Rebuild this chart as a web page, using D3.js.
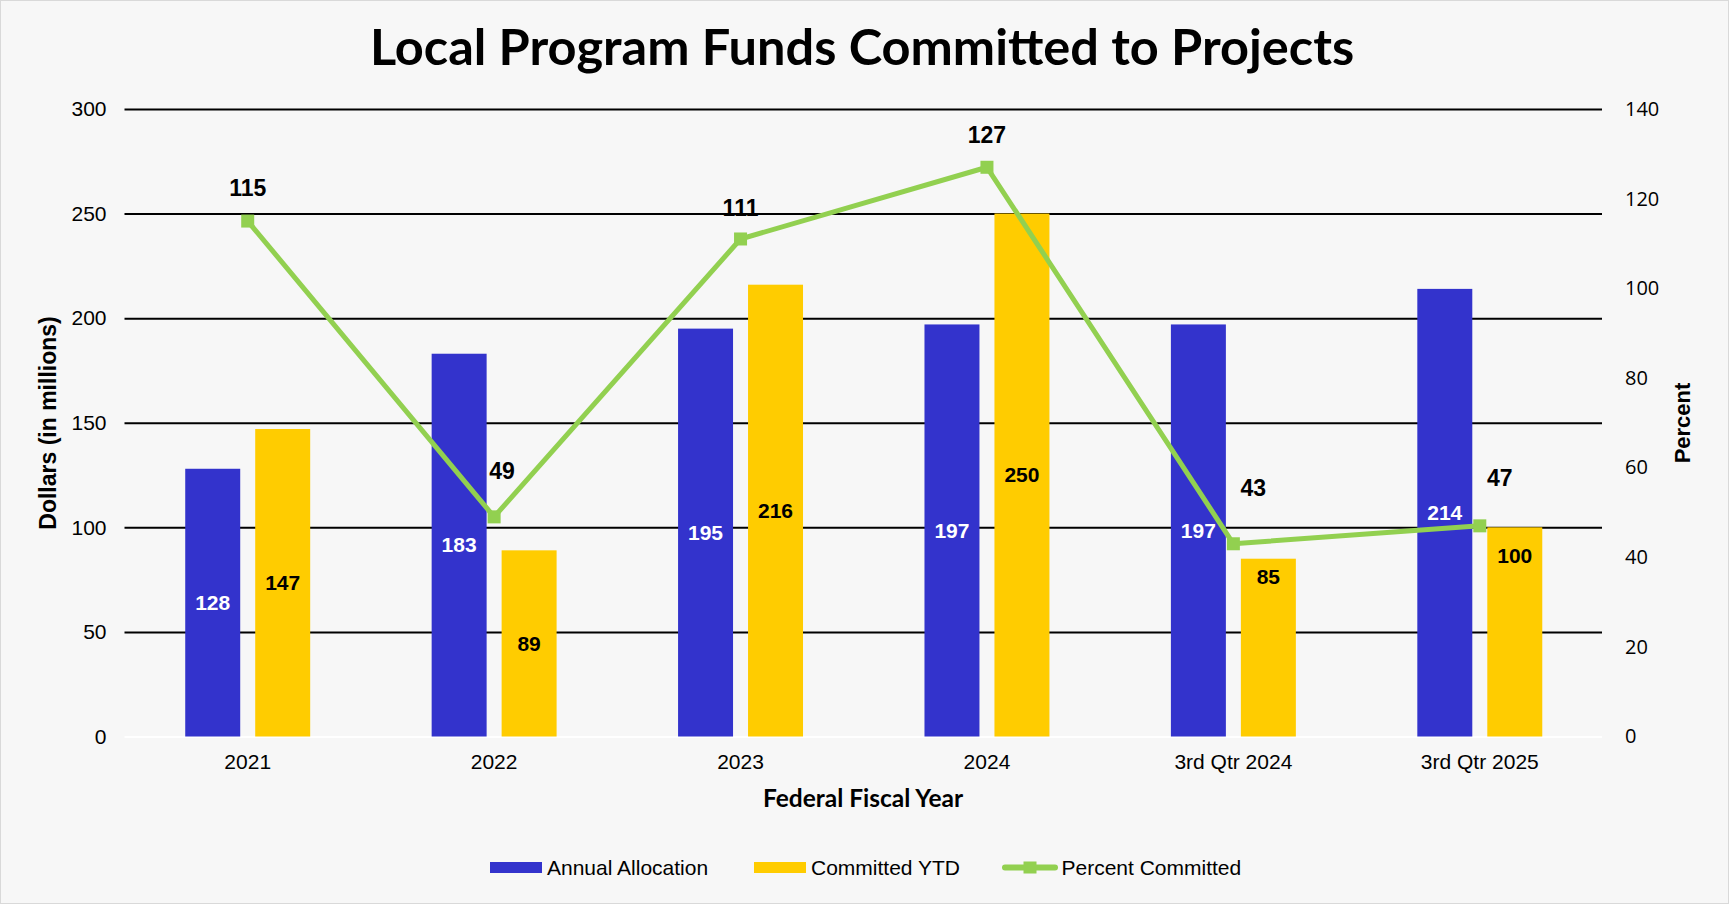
<!DOCTYPE html>
<html>
<head>
<meta charset="utf-8">
<script src="https://cdn.jsdelivr.net/npm/d3@7"></script>
<style>
  body { margin: 0; background: #f7f7f7; }
  svg { display: block; }
  .axis text { fill: #000; }
</style>
</head>
<body>
<div id="chart"></div>
<script>
// chart data
var years = ["2021", "2022", "2023", "2024", "3rd Qtr 2024", "3rd Qtr 2025"];
var annualAllocation = [128, 183, 195, 197, 197, 214];
var committedYTD = [147, 89, 216, 250, 85, 100];
var percentCommitted = [115, 49, 111, 127, 43, 47];
var leftTicks = [0, 50, 100, 150, 200, 250, 300];
var rightTicks = [0, 20, 40, 60, 80, 100, 120, 140];

// some labels were dragged around by hand in the original
var pctLabelNudge = [[0, -33], [8, -46], [0, -31], [0, -32], [20, -56], [20, -48]];
var ytdLabelNudge = [0, 0, 0, 0, -71, -76];

var width = 1729, height = 904;
var plot = {left: 124.5, right: 1603, top: 109, bottom: 736.5};

var svg = d3.select("#chart").append("svg")
    .attr("width", width)
    .attr("height", height);

svg.append("rect")
    .attr("x", 0.5).attr("y", 0.5)
    .attr("width", width - 1).attr("height", height - 1)
    .style("fill", "#f7f7f7")
    .style("stroke", "#d9d9d9");

// scales
var x0 = d3.scaleBand()
    .domain(years)
    .range([plot.left, plot.right])
    .paddingInner(121.5 / 246.5)
    .paddingOuter(121.5 / 246.5 / 2);

var x1 = d3.scaleBand()
    .domain(["alloc", "ytd"])
    .range([0, x0.bandwidth()])
    .paddingInner(15 / 70);

var yLeft = d3.scaleLinear().domain([0, 300]).range([plot.bottom, plot.top]);
var yRight = d3.scaleLinear().domain([0, 140]).range([plot.bottom, plot.top]);

// left axis + gridlines
var leftAxis = d3.axisLeft(yLeft)
    .tickValues(leftTicks)
    .tickSize(-(plot.right - 1 - plot.left))
    .tickPadding(18);

var gLeft = svg.append("g")
    .attr("class", "axis")
    .attr("transform", "translate(" + plot.left + ",0)")
    .call(leftAxis);
gLeft.select(".domain").remove();
gLeft.selectAll(".tick line")
    .style("stroke", function(d) { return d === 0 ? "#ffffff" : "#000"; })
    .style("stroke-width", 2);
gLeft.selectAll(".tick text")
    .style("font-family", "'Liberation Sans', Arial, sans-serif")
    .style("font-size", "21px");

// right axis
var rightAxis = d3.axisRight(yRight)
    .tickValues(rightTicks)
    .tickSize(0)
    .tickPadding(22);

var gRight = svg.append("g")
    .attr("class", "axis")
    .attr("transform", "translate(" + plot.right + ",0)")
    .call(rightAxis);
gRight.select(".domain").remove();
gRight.selectAll(".tick text")
    .style("font-family", "'Open Sans', sans-serif")
    .style("font-size", "20px");

// category axis
var xAxis = d3.axisBottom(x0).tickSize(0).tickPadding(18);
var gX = svg.append("g")
    .attr("class", "axis")
    .attr("transform", "translate(0," + plot.bottom + ")")
    .call(xAxis);
gX.select(".domain").remove();
gX.selectAll(".tick text")
    .style("font-family", "'Liberation Sans', Arial, sans-serif")
    .style("font-size", "21px");

// bars
var rows = years.map(function(y, i) {
  return {year: y, alloc: annualAllocation[i], ytd: committedYTD[i], pct: percentCommitted[i], i: i};
});

var groups = svg.selectAll(".group")
    .data(rows)
    .enter().append("g")
    .attr("class", "group")
    .attr("transform", function(d) { return "translate(" + x0(d.year) + ",0)"; });

var series = [
  {key: "alloc", color: "#3333cc", label: "#ffffff", nudge: null},
  {key: "ytd", color: "#ffcc00", label: "#000000", nudge: ytdLabelNudge}
];

series.forEach(function(s) {
  groups.append("rect")
      .attr("x", x1(s.key))
      .attr("width", x1.bandwidth())
      .attr("y", function(d) { return yLeft(d[s.key]); })
      .attr("height", function(d) { return yLeft(0) - yLeft(d[s.key]); })
      .style("fill", s.color);

  groups.append("text")
      .attr("x", x1(s.key) + x1.bandwidth() / 2)
      .attr("y", function(d) {
        var mid = (yLeft(d[s.key]) + yLeft(0)) / 2;
        return s.nudge ? mid + s.nudge[d.i] : mid;
      })
      .attr("dy", "0.35em")
      .attr("text-anchor", "middle")
      .style("font-family", "'Liberation Sans', Arial, sans-serif")
      .style("font-weight", "bold")
      .style("font-size", "21px")
      .style("fill", s.label)
      .text(function(d) { return d[s.key]; });
});

// percent line
var cx = function(d) { return x0(d.year) + x0.bandwidth() / 2; };
var line = d3.line()
    .x(cx)
    .y(function(d) { return yRight(d.pct); });

svg.append("path")
    .datum(rows)
    .attr("d", line)
    .style("fill", "none")
    .style("stroke", "#92d050")
    .style("stroke-width", 5)
    .style("stroke-linejoin", "round");

svg.selectAll(".marker")
    .data(rows)
    .enter().append("rect")
    .attr("class", "marker")
    .attr("x", function(d) { return cx(d) - 6.5; })
    .attr("y", function(d) { return yRight(d.pct) - 6.5; })
    .attr("width", 13)
    .attr("height", 13)
    .style("fill", "#92d050");

svg.selectAll(".pct-label")
    .data(rows)
    .enter().append("text")
    .attr("class", "pct-label")
    .attr("x", function(d) { return cx(d) + pctLabelNudge[d.i][0]; })
    .attr("y", function(d) { return yRight(d.pct) + pctLabelNudge[d.i][1]; })
    .attr("dy", "0.35em")
    .attr("text-anchor", "middle")
    .style("font-family", "'Liberation Sans', Arial, sans-serif")
    .style("font-weight", "bold")
    .style("font-size", "23px")
    .style("fill", "#000")
    .text(function(d) { return d.pct; });

// titles
svg.append("text")
    .text("Local Program Funds Committed to Projects")
    .attr("x", 862)
    .attr("y", 65)
    .attr("text-anchor", "middle")
    .style("font-family", "Lato, 'Open Sans', sans-serif")
    .style("font-weight", "bold")
    .style("font-size", "50.5px")
    .style("fill", "#000");

svg.append("text")
    .text("Federal Fiscal Year")
    .attr("x", 863)
    .attr("y", 798)
    .attr("dy", "0.35em")
    .attr("text-anchor", "middle")
    .style("font-family", "Lato, 'Open Sans', sans-serif")
    .style("font-weight", "bold")
    .style("font-size", "24.5px");

svg.append("text")
    .text("Dollars (in millions)")
    .attr("transform", "translate(48,423) rotate(-90)")
    .attr("dy", "0.35em")
    .attr("text-anchor", "middle")
    .style("font-family", "'Liberation Sans', Arial, sans-serif")
    .style("font-weight", "bold")
    .style("font-size", "23px");

svg.append("text")
    .text("Percent")
    .attr("transform", "translate(1682,423) rotate(-90)")
    .attr("dy", "0.35em")
    .attr("text-anchor", "middle")
    .style("font-family", "'Liberation Sans', Arial, sans-serif")
    .style("font-weight", "bold")
    .style("font-size", "22px");

// legend
var legendItems = [
  {name: "Annual Allocation", type: "bar", color: "#3333cc", x: 490},
  {name: "Committed YTD", type: "bar", color: "#ffcc00", x: 754},
  {name: "Percent Committed", type: "line", color: "#92d050", x: 1002}
];
var legendY = 867.5;

var leg = svg.selectAll(".legend")
    .data(legendItems)
    .enter().append("g")
    .attr("class", "legend")
    .attr("transform", function(d) { return "translate(" + d.x + "," + legendY + ")"; });

leg.filter(function(d) { return d.type === "bar"; })
    .append("rect")
    .attr("x", 0).attr("y", -5.5)
    .attr("width", 52).attr("height", 11)
    .style("fill", function(d) { return d.color; });

var lineItems = leg.filter(function(d) { return d.type === "line"; });
lineItems.append("line")
    .attr("x1", 3).attr("x2", 53)
    .attr("y1", 0).attr("y2", 0)
    .style("stroke", function(d) { return d.color; })
    .style("stroke-width", 6)
    .style("stroke-linecap", "round");
lineItems.append("rect")
    .attr("x", 21.5).attr("y", -6)
    .attr("width", 13).attr("height", 12)
    .style("fill", function(d) { return d.color; });

leg.append("text")
    .attr("x", function(d) { return d.type === "line" ? 59.5 : 57; })
    .attr("y", 0)
    .attr("dy", "0.35em")
    .style("font-family", "'Liberation Sans', Arial, sans-serif")
    .style("font-size", "21px")
    .text(function(d) { return d.name; });
</script>
</body>
</html>
